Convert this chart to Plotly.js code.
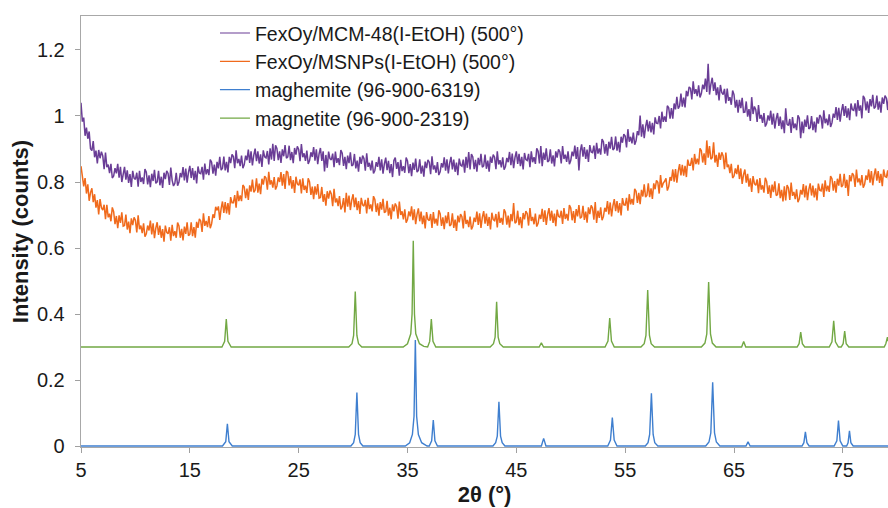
<!DOCTYPE html>
<html>
<head>
<meta charset="utf-8">
<script src="https://cdn.plot.ly/plotly-3.0.1.min.js"></script>
<style>html,body{margin:0;padding:0;background:#fff;overflow:hidden;}#chart{width:888px;height:508px;}</style>
</head>
<body>
<div id="chart"></div>
<script>
// Scan axis of the measured patterns (2θ, degrees)
const scanStart = 5;
const scanStep = 0.125;

// FexOy/MCM-48(I-EtOH) (500°) measured intensities (one row per degree, 5..79, then 80)
const mcm48 = [
1.040,0.983,0.995,0.940,0.965,0.931,0.953,0.901,
0.895,0.924,0.875,0.895,0.856,0.897,0.872,0.892,
0.879,0.839,0.889,0.845,0.853,0.827,0.855,0.812,
0.818,0.842,0.826,0.855,0.813,0.846,0.8,0.829,
0.846,0.807,0.835,0.797,0.824,0.785,0.834,0.812,
0.808,0.828,0.786,0.834,0.8,0.814,0.794,0.839,
0.83,0.793,0.82,0.784,0.825,0.803,0.837,0.796,
0.8,0.834,0.79,0.816,0.782,0.828,0.809,0.834,
0.826,0.791,0.844,0.805,0.788,0.796,0.828,0.789,
0.8,0.827,0.814,0.845,0.805,0.841,0.798,0.829,
0.849,0.812,0.842,0.806,0.834,0.796,0.847,0.827,
0.825,0.846,0.807,0.856,0.823,0.839,0.821,0.868,
0.86,0.825,0.853,0.819,0.861,0.841,0.876,0.836,
0.842,0.877,0.835,0.861,0.829,0.876,0.857,0.884,
0.877,0.842,0.896,0.857,0.87,0.848,0.88,0.842,
0.853,0.88,0.866,0.898,0.858,0.893,0.85,0.881,
0.901,0.863,0.893,0.856,0.884,0.846,0.896,0.876,
0.873,0.894,0.853,0.902,0.868,0.916,0.864,0.911,
0.902,0.866,0.893,0.858,0.899,0.878,0.912,0.872,
0.876,0.91,0.866,0.891,0.857,0.903,0.883,0.908,
0.899,0.863,0.915,0.875,0.887,0.864,0.895,0.855,
0.865,0.89,0.876,0.906,0.865,0.899,0.854,0.885,
0.903,0.864,0.893,0.832,0.882,0.843,0.892,0.871,
0.867,0.886,0.845,0.892,0.858,0.872,0.851,0.897,
0.887,0.849,0.876,0.839,0.88,0.857,0.89,0.849,
0.852,0.885,0.841,0.865,0.831,0.876,0.855,0.88,
0.871,0.834,0.887,0.846,0.858,0.835,0.865,0.826,
0.835,0.86,0.846,0.876,0.835,0.869,0.825,0.855,
0.874,0.836,0.864,0.827,0.854,0.815,0.865,0.874,
0.84,0.86,0.819,0.867,0.833,0.848,0.828,0.874,
0.864,0.827,0.854,0.818,0.859,0.837,0.871,0.83,
0.835,0.869,0.825,0.85,0.816,0.862,0.842,0.867,
0.86,0.824,0.878,0.838,0.85,0.828,0.86,0.821,
0.831,0.857,0.844,0.875,0.834,0.869,0.826,0.857,
0.876,0.838,0.868,0.831,0.859,0.821,0.871,0.851,
0.848,0.868,0.828,0.876,0.843,0.891,0.838,0.885,
0.876,0.839,0.867,0.831,0.873,0.851,0.885,0.845,
0.849,0.883,0.84,0.865,0.831,0.877,0.858,0.883,
0.875,0.839,0.893,0.853,0.866,0.844,0.875,0.837,
0.847,0.873,0.86,0.891,0.851,0.886,0.842,0.874,
0.893,0.855,0.885,0.848,0.876,0.838,0.888,0.868,
0.865,0.885,0.845,0.893,0.86,0.875,0.855,0.902,
0.893,0.856,0.909,0.848,0.889,0.867,0.902,0.861,
0.865,0.899,0.856,0.881,0.847,0.893,0.874,0.899,
0.891,0.856,0.909,0.87,0.883,0.861,0.893,0.854,
0.865,0.892,0.878,0.91,0.87,0.906,0.835,0.894,
0.914,0.877,0.906,0.87,0.898,0.861,0.912,0.891,
0.889,0.91,0.87,0.919,0.886,0.902,0.883,0.93,
0.922,0.886,0.915,0.88,0.922,0.901,0.937,0.897,
0.902,0.938,0.895,0.922,0.89,0.937,0.919,0.945,
0.939,0.905,0.96,0.922,0.937,0.917,0.95,0.913,
0.925,0.954,0.942,1.001,0.937,0.975,0.933,0.967,
0.988,0.953,0.984,0.95,0.979,0.944,0.996,0.978,
0.977,1.0,0.962,1.013,0.982,0.999,0.982,1.031,
1.025,0.992,1.024,0.992,1.038,1.02,1.058,1.022,
1.03,1.068,1.028,1.056,1.026,1.076,1.06,1.088,
1.084,1.05,1.105,1.067,1.081,1.06,1.093,1.056,
1.068,1.095,1.081,1.113,1.073,1.158,1.065,1.096,
1.116,1.076,1.102,1.063,1.087,1.047,1.094,1.071,
1.065,1.082,1.038,1.083,1.046,1.057,1.034,1.077,
1.065,1.025,1.049,1.01,1.049,1.024,1.055,1.011,
1.012,1.044,0.998,1.021,0.985,1.057,1.006,1.029,
1.019,0.982,1.033,0.992,1.003,0.979,1.009,0.968,
0.977,1.002,0.986,1.016,0.974,1.007,0.962,0.991,
1.009,0.97,0.998,0.96,0.987,0.948,1.023,0.975,
0.971,0.991,0.949,0.997,0.963,0.977,0.957,1.002,
0.993,0.933,0.983,0.948,0.989,0.967,1.002,0.961,
0.965,1.0,0.957,0.983,0.95,0.996,0.977,1.003,
0.996,0.962,1.017,0.978,0.992,0.972,1.005,0.967,
0.979,1.007,0.995,1.027,0.988,1.025,0.983,1.015,
1.036,1.0,1.03,0.995,1.023,0.987,1.038,1.019,
1.017,1.038,0.999,1.048,1.016,1.032,0.993,1.061,
1.053,1.017,1.044,1.009,1.051,1.029,1.064,1.023,
1.028,1.062,1.019,1.044,1.01,1.056,1.037,1.062,
1.054,1.018,1.071,1.031,1.043,1.021,1.052,1.013,
1.043
];

// FexOy/MSNPs(I-EtOH) (500°) measured intensities (one row per degree, 5..79, then 80)
const msnps = [
0.848,0.809,0.787,0.812,0.765,0.793,0.743,0.768,
0.781,0.739,0.763,0.722,0.745,0.702,0.748,0.722,
0.715,0.731,0.687,0.731,0.693,0.704,0.681,0.723,
0.71,0.672,0.697,0.66,0.699,0.676,0.708,0.666,
0.668,0.701,0.656,0.68,0.645,0.69,0.669,0.693,
0.684,0.647,0.699,0.657,0.668,0.645,0.675,0.634,
0.643,0.668,0.653,0.683,0.641,0.675,0.63,0.66,
0.678,0.64,0.668,0.631,0.657,0.619,0.668,0.647,
0.643,0.663,0.622,0.67,0.636,0.651,0.631,0.677,
0.667,0.631,0.658,0.623,0.665,0.643,0.678,0.637,
0.642,0.678,0.636,0.663,0.631,0.679,0.661,0.688,
0.682,0.649,0.705,0.667,0.682,0.663,0.697,0.66,
0.673,0.702,0.691,0.725,0.714,0.726,0.685,0.719,
0.741,0.706,0.739,0.705,0.736,0.701,0.754,0.737,
0.737,0.76,0.722,0.773,0.742,0.759,0.742,0.791,
0.785,0.751,0.78,0.746,0.79,0.771,0.807,0.769,
0.775,0.811,0.768,0.795,0.763,0.81,0.792,0.818,
0.812,0.777,0.831,0.792,0.805,0.783,0.815,0.777,
0.788,0.814,0.8,0.83,0.789,0.824,0.779,0.833,
0.829,0.79,0.818,0.78,0.806,0.767,0.816,0.794,
0.79,0.808,0.765,0.811,0.776,0.789,0.767,0.811,
0.8,0.761,0.786,0.748,0.787,0.762,0.794,0.751,
0.753,0.785,0.74,0.763,0.728,0.772,0.75,0.774,
0.764,0.727,0.779,0.738,0.75,0.727,0.757,0.717,
0.726,0.751,0.708,0.767,0.725,0.759,0.715,0.745,
0.763,0.724,0.753,0.715,0.742,0.703,0.752,0.731,
0.727,0.746,0.705,0.752,0.718,0.732,0.711,0.757,
0.747,0.709,0.735,0.698,0.739,0.716,0.749,0.707,
0.71,0.743,0.698,0.722,0.687,0.732,0.711,0.735,
0.726,0.689,0.741,0.7,0.711,0.687,0.717,0.677,
0.686,0.711,0.696,0.726,0.684,0.717,0.672,0.702,
0.72,0.681,0.71,0.672,0.698,0.659,0.709,0.687,
0.683,0.703,0.661,0.709,0.674,0.689,0.668,0.714,
0.704,0.667,0.693,0.657,0.698,0.675,0.709,0.667,
0.671,0.705,0.661,0.686,0.652,0.698,0.678,0.703,
0.695,0.659,0.713,0.673,0.685,0.663,0.695,0.656,
0.666,0.692,0.679,0.71,0.67,0.705,0.661,0.693,
0.712,0.674,0.704,0.667,0.694,0.656,0.707,0.686,
0.683,0.703,0.662,0.71,0.676,0.691,0.671,0.717,
0.708,0.671,0.698,0.662,0.703,0.681,0.736,0.675,
0.679,0.713,0.669,0.694,0.66,0.706,0.687,0.712,
0.704,0.668,0.721,0.682,0.694,0.672,0.704,0.665,
0.675,0.701,0.688,0.719,0.679,0.714,0.67,0.702,
0.721,0.683,0.713,0.676,0.704,0.666,0.716,0.696,
0.693,0.713,0.673,0.721,0.688,0.703,0.683,0.73,
0.721,0.684,0.712,0.676,0.718,0.696,0.73,0.69,
0.694,0.728,0.685,0.71,0.677,0.723,0.703,0.729,
0.721,0.686,0.739,0.676,0.713,0.691,0.723,0.684,
0.695,0.722,0.71,0.742,0.702,0.738,0.696,0.728,
0.748,0.712,0.742,0.707,0.736,0.699,0.751,0.731,
0.73,0.752,0.713,0.763,0.732,0.749,0.731,0.779,
0.772,0.737,0.767,0.733,0.776,0.756,0.793,0.754,
0.76,0.796,0.754,0.781,0.749,0.796,0.778,0.805,
0.799,0.765,0.821,0.783,0.797,0.802,0.811,0.774,
0.786,0.815,0.804,0.838,0.801,0.839,0.798,0.832,
0.854,0.82,0.852,0.819,0.849,0.815,0.868,0.851,
0.851,0.873,0.835,0.885,0.854,0.871,0.853,0.902,
0.895,0.859,0.887,0.852,0.926,0.874,0.909,0.869,
0.874,0.92,0.859,0.882,0.846,0.889,0.867,0.89,
0.879,0.839,0.889,0.845,0.853,0.827,0.855,0.812,
0.818,0.841,0.824,0.852,0.809,0.841,0.794,0.822,
0.838,0.798,0.825,0.786,0.811,0.77,0.818,0.795,
0.79,0.808,0.766,0.812,0.777,0.79,0.768,0.813,
0.802,0.764,0.79,0.752,0.792,0.769,0.802,0.759,
0.762,0.796,0.751,0.776,0.741,0.787,0.744,0.791,
0.782,0.746,0.798,0.758,0.77,0.748,0.778,0.739,
0.749,0.776,0.762,0.794,0.753,0.789,0.745,0.777,
0.796,0.759,0.789,0.753,0.781,0.744,0.795,0.775,
0.773,0.795,0.755,0.805,0.772,0.789,0.77,0.818,
0.81,0.774,0.803,0.768,0.81,0.789,0.825,0.785,
0.79,0.825,0.782,0.807,0.758,0.821,0.802,0.827,
0.82,0.785,0.838,0.799,0.811,0.79,0.821,0.783,
0.793,0.82,0.806,0.838,0.798,0.833,0.79,0.821,
0.841,0.804,0.833,0.797,0.825,0.787,0.838,0.817,
0.815,0.835,0.794,0.842,0.808,0.823,0.803,0.849,
0.823
];

// maghemite (96-900-6319) reference pattern
const maghemiteX = [5,
18.0,18.3,18.45,18.6,18.9,
29.8,30.05,30.2,30.35,30.5,30.65,30.9,
34.8,35.2,35.45,35.6,35.72,35.84,36.0,36.3,36.8,
37.0,37.22,37.37,37.52,37.75,
42.85,43.1,43.25,43.4,43.55,43.7,43.95,
47.3,47.51,47.72,
53.4,53.65,53.82,53.99,54.25,
56.85,57.1,57.25,57.41,57.57,57.72,58.0,
62.4,62.7,62.87,63.04,63.21,63.38,63.7,
66.1,66.29,66.48,
71.25,71.42,71.56,71.7,71.9,
74.2,74.45,74.6,74.75,75.0,
75.35,75.48,75.61,75.74,75.95,
80];
const maghemiteY = [0,
0,0.013,0.067,0.013,0,
0,0.01,0.035,0.162,0.035,0.01,0,
0,0.01,0.035,0.09,0.321,0.09,0.035,0.01,0,
0,0.016,0.079,0.016,0,
0,0.01,0.03,0.134,0.03,0.01,0,
0,0.023,0,
0,0.018,0.086,0.018,0,
0,0.01,0.035,0.16,0.035,0.01,0,
0,0.012,0.04,0.193,0.04,0.012,0,
0,0.013,0,
0,0.01,0.043,0.01,0,
0,0.016,0.077,0.016,0,
0,0.01,0.046,0.01,0,
0];

// magnetite (96-900-2319) reference pattern (offset +0.3)
const magnetiteX = [5,
17.95,18.2,18.35,18.5,18.8,
29.6,29.9,30.05,30.2,30.35,30.5,30.8,
34.6,35.0,35.3,35.42,35.53,35.64,35.76,36.1,36.5,36.85,
37.04,37.19,37.34,37.6,
42.6,42.9,43.05,43.19,43.33,43.48,43.8,
47.1,47.3,47.5,
53.15,53.42,53.58,53.74,54.0,
56.45,56.75,56.91,57.07,57.23,57.39,57.7,
62.0,62.33,62.5,62.67,62.84,63.01,63.35,
65.7,65.89,66.08,
70.8,70.98,71.13,71.28,71.5,
73.75,74.0,74.16,74.32,74.6,
74.85,75.03,75.17,75.31,75.55,
78.8,78.95,79.1,79.25,79.5,
80];
const magnetiteY = [0.3,
0.3,0.317,0.385,0.317,0.3,
0.3,0.31,0.335,0.468,0.335,0.31,0.3,
0.3,0.31,0.34,0.4,0.622,0.4,0.34,0.31,0.302,0.3,
0.317,0.385,0.317,0.3,
0.3,0.31,0.33,0.437,0.33,0.31,0.3,
0.3,0.313,0.3,
0.3,0.318,0.388,0.318,0.3,
0.3,0.31,0.335,0.473,0.335,0.31,0.3,
0.3,0.312,0.34,0.497,0.34,0.312,0.3,
0.3,0.317,0.3,
0.3,0.31,0.345,0.31,0.3,
0.3,0.316,0.379,0.316,0.3,
0.3,0.31,0.348,0.31,0.3,
0.3,0.31,0.33,0.31,0.3,
0.3];

const seriesNames = [
  'FexOy/MCM-48(I-EtOH) (500°)',
  'FexOy/MSNPs(I-EtOH) (500°)',
  'maghemite (96-900-6319)',
  'magnetite (96-900-2319)'
];
const seriesColors = ['#6a3d96', '#f06a1c', '#3f7fcf', '#72a844'];

const scanX = mcm48.map((_, i) => scanStart + i * scanStep);

const traces = [
  {x: scanX, y: mcm48, mode: 'lines', showlegend: false,
   line: {color: seriesColors[0], width: 1.5}},
  {x: scanX, y: msnps, mode: 'lines', showlegend: false,
   line: {color: seriesColors[1], width: 1.5}},
  {x: maghemiteX, y: maghemiteY, mode: 'lines', showlegend: false,
   line: {color: seriesColors[2], width: 1.4}},
  {x: magnetiteX, y: magnetiteY, mode: 'lines', showlegend: false,
   line: {color: seriesColors[3], width: 1.4}}
];
// legend-only entries (thin line samples, as in the original legend)
seriesNames.forEach((n, i) => traces.push({
  x: [null], y: [null], name: n, mode: 'lines', line: {color: seriesColors[i], width: 1.2}
}));

const font = 'Liberation Sans, Arial, sans-serif';

const layout = {
  width: 888, height: 508,
  margin: {l: 81, r: 0, t: 16, b: 61, pad: 0},
  paper_bgcolor: '#fff', plot_bgcolor: '#fff',
  font: {family: font, size: 20, color: '#1a1a1a'},
  showlegend: true,
  legend: {x: 0.166, y: 1.005, xanchor: 'left', yanchor: 'top', bgcolor: 'rgba(0,0,0,0)',
           font: {family: font, size: 19.5, color: '#1a1a1a'}},
  xaxis: {
    range: [5, 79.15], tick0: 5, dtick: 10, ticks: 'outside', ticklen: 5, tickcolor: '#a0a0a0',
    showline: true, linecolor: '#a8a8a8', linewidth: 1.3, mirror: true, showgrid: false, zeroline: false,
    layer: 'below traces', ticklabelstandoff: 0,
    tickfont: {family: font, size: 20, color: '#1a1a1a'},
    title: {text: '2θ (°)', font: {family: font, size: 22, color: '#1a1a1a', weight: 'bold'}, standoff: 6}
  },
  yaxis: {
    range: [-0.003, 1.303], tick0: 0, dtick: 0.2, ticks: 'outside', ticklen: 5, tickcolor: '#a0a0a0',
    showline: true, linecolor: '#a8a8a8', linewidth: 1.3, showgrid: false, zeroline: false,
    layer: 'below traces', ticklabelstandoff: 6,
    tickfont: {family: font, size: 20, color: '#1a1a1a'},
    title: {text: 'Intensity (counts)', font: {family: font, size: 22, color: '#1a1a1a', weight: 'bold'}, standoff: 2}
  }
};

Plotly.newPlot('chart', traces, layout, {displayModeBar: false, staticPlot: true});
</script>
</body>
</html>
